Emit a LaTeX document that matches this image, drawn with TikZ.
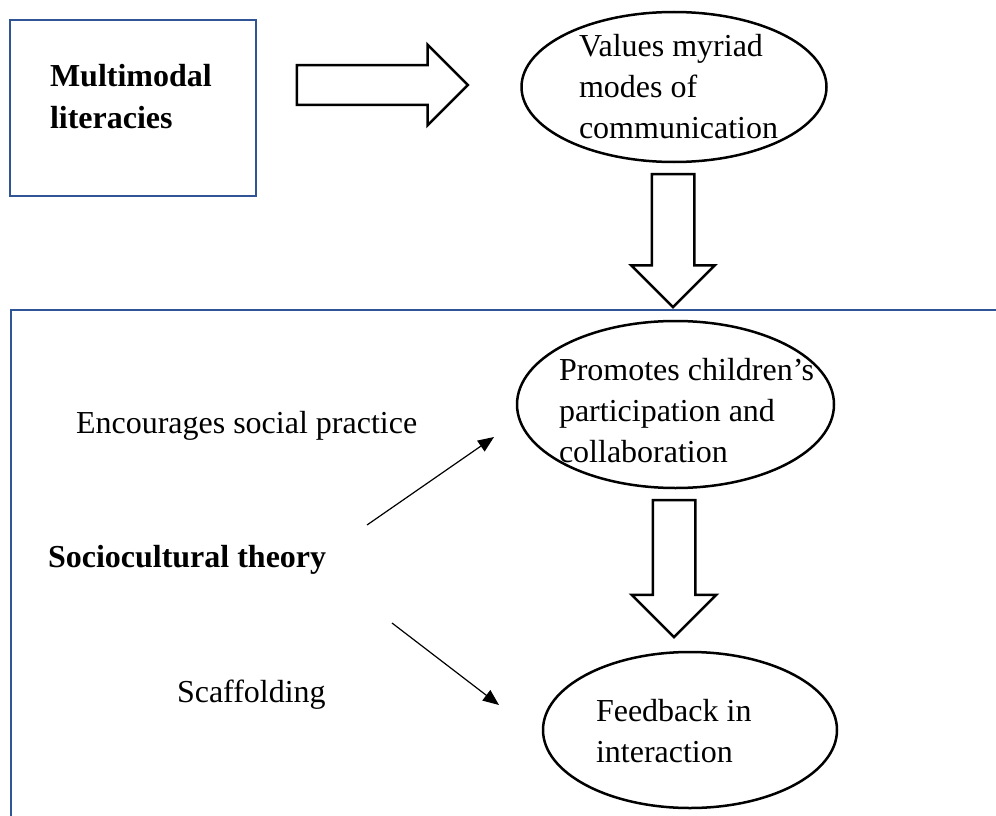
\documentclass[tikz,border=0pt]{standalone}
\usepackage{fontspec}
\setmainfont{Liberation Serif}
\usetikzlibrary{shapes.geometric,shapes.arrows,arrows.meta}
\definecolor{frameblue}{RGB}{47,85,151}
\begin{document}
\begin{tikzpicture}[x=1pt,y=-1pt,
  txt/.style={anchor=base west, inner sep=0, outer sep=0, align=left, font=\fontsize{32}{41}\selectfont},
  btxt/.style={txt, font=\fontsize{32}{41}\selectfont\bfseries},
  oval/.style={draw, ellipse, line width=2.5pt, inner sep=0, outer sep=0},
  blockarrow/.style={draw, single arrow, line width=2.5pt, inner xsep=0, outer sep=0,
     single arrow tip angle=90},
  thinarrow/.style={line width=1.2pt, -{Triangle[length=16pt,width=13pt]}},
  frame/.style={draw=frameblue, line width=2.8pt}
]
\useasboundingbox (0,0) rectangle (996,816);
\fill[white] (0,0) rectangle (996,816);

% top box
\node[frame, rectangle, minimum width=246pt, minimum height=176pt, inner sep=0] (mlbox) at (133,108) {};
\node[btxt] (ml) at (50,128) {Multimodal\\literacies};

% block arrow right
\node[blockarrow, minimum height=171pt, inner ysep=18.5pt, single arrow head extend=20.5pt] (a1) at (372.5,85) {};

% ellipse 1
\node[oval, minimum width=305pt, minimum height=150pt] (e1) at (674,87) {};
\node[txt] (t1) at (579,138) {Values myriad\\modes of\\communication};

% block arrow down 1
\node[blockarrow, rotate=-90, minimum height=133pt, inner ysep=20pt, single arrow head extend=20.5pt] (a2) at (673,230) {};

% sociocultural frame
\draw[frame] (11,830) -- (11,310) -- (1000,310);

% ellipse 2
\node[oval, minimum width=317pt, minimum height=167pt] (e2) at (675.5,404.5) {};
\node[txt] (t2) at (559,462) {Promotes children’s\\participation and\\collaboration};

% block arrow down 2
\node[blockarrow, rotate=-90, minimum height=137pt, inner ysep=20pt, single arrow head extend=21pt] (a3) at (674,558) {};

% ellipse 3
\node[oval, minimum width=294pt, minimum height=156pt] (e3) at (690,730) {};
\node[txt] (t3) at (596,762) {Feedback in\\interaction};

% left texts
\node[txt] (enc) at (76,433) {Encourages social practice};
\node[btxt] (sct) at (48,567) {Sociocultural theory};
\node[txt] (scf) at (177,702) {Scaffolding};

% thin arrows
\coordinate (up0) at (367,525);
\coordinate (up1) at (494,437);
\coordinate (dn0) at (392,623);
\coordinate (dn1) at (499,705);
\draw[thinarrow] (up0) -- (up1);
\draw[thinarrow] (dn0) -- (dn1);
\end{tikzpicture}
\end{document}
